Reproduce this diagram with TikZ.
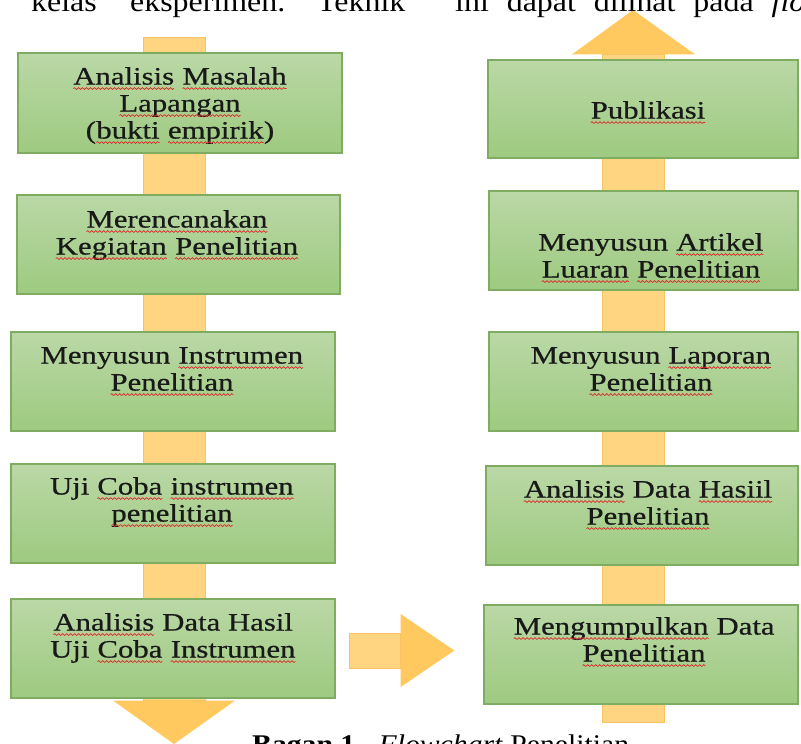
\documentclass[tikz,border=0pt]{standalone}
\usepackage{fontspec}
\setmainfont{Liberation Serif}[FakeStretch=1.23, FakeBold=0.6]
\newfontfamily\bodyfont{Liberation Serif}[FakeStretch=1.1]
\usetikzlibrary{calc,backgrounds,decorations.pathmorphing}

\definecolor{boxtop}{RGB}{186,216,166}
\definecolor{boxbot}{RGB}{158,202,128}
\definecolor{boxline}{RGB}{128,172,98}
\definecolor{barfill}{RGB}{255,213,130}
\definecolor{barline}{RGB}{246,196,100}
\definecolor{headfill}{RGB}{255,201,96}
\definecolor{squig}{RGB}{222,40,40}

% red spell-check wave under a word
\newcommand{\sq}[1]{\tikz[baseline=(w.base), x=1pt, y=1pt]{%
  \node[anchor=base, inner sep=0pt, outer sep=0pt, minimum size=0pt] (w) {#1};
  \draw[squig, line width=0.7pt, decorate, decoration={snake, amplitude=0.9pt, segment length=4pt}]
    ($(w.base west)+(0,-4)$) -- ($(w.base east)+(0,-4)$);}}

\tikzset{
  box/.style 2 args={rectangle, draw=boxline, line width=1.2pt, top color=boxtop, bottom color=boxbot,
    minimum width=#1, minimum height=#2, inner sep=0pt},
  steptext/.style={anchor=north, align=center, inner sep=0pt, font=\fontsize{25}{27}\selectfont, text=black!90},
  bodytext/.style={anchor=base west, inner sep=0pt, font=\bodyfont\fontsize{29}{32}\selectfont},
  captext/.style={anchor=base west, inner sep=0pt, font=\bodyfont\fontsize{27}{30}\selectfont},
  bar/.style={fill=barfill, draw=barline, line width=0.8pt},
  head/.style={fill=headfill, draw=none},
}

\begin{document}
\begin{tikzpicture}[x=1pt, y=-1pt]
\useasboundingbox (0,0) rectangle (801,744);
\clip (0,0) rectangle (801,744);

% left column
\node[box={324}{100}] (L1) at (180,103) {};
\node[box={323}{99}] (L2) at (178.5,244.5) {};
\node[box={324}{99}] (L3) at (173,381.5) {};
\node[box={324}{99}] (L4) at (173,513.5) {};
\node[box={324}{99}] (L5) at (173,648.5) {};

\node[steptext] (L1t) at (180,67) {\sq{Analisis} \sq{Masalah}\\ \sq{Lapangan}\\ (\sq{bukti} \sq{empirik})};
\node[steptext] (L2t) at (177,210) {\sq{Merencanakan}\\ \sq{Kegiatan} \sq{Penelitian}};
\node[steptext] (L3t) at (172,347) {Menyusun \sq{Instrumen}\\ \sq{Penelitian}};
\node[steptext] (L4t) at (172,477) {Uji \sq{Coba} \sq{instrumen}\\ \sq{penelitian}};
\node[steptext] (L5t) at (173,613) {\sq{Analisis} Data Hasil\\ Uji \sq{Coba} \sq{Instrumen}};

% right column
\node[box={310}{98}] (R1) at (643,109) {};
\node[box={309}{99}] (R2) at (643.5,240.5) {};
\node[box={309}{99}] (R3) at (643.5,381.5) {};
\node[box={312}{99}] (R4) at (642,515.5) {};
\node[box={314}{99}] (R5) at (641,654.5) {};

\node[steptext] (R1t) at (648,101) {\sq{Publikasi}};
\node[steptext] (R2t) at (651,233) {Menyusun \sq{Artikel}\\ \sq{Luaran} \sq{Penelitian}};
\node[steptext] (R3t) at (651,347) {Menyusun \sq{Laporan}\\ \sq{Penelitian}};
\node[steptext] (R4t) at (648,480) {\sq{Analisis} Data \sq{Hasiil}\\ \sq{Penelitian}};
\node[steptext] (R5t) at (644,617) {\sq{Mengumpulkan} Data\\ \sq{Penelitian}};

% arrows behind the boxes
\coordinate (ltop) at (174,37);
\coordinate (ltip) at (174,744);
\coordinate (rbot) at (633,722);
\coordinate (rtip) at (633,10);
\coordinate (htip) at ($(R5.west)+(-29,-4)$);
\begin{scope}[on background layer]
  \draw[bar] ($(ltop)+(-31,0)$) rectangle ($(L5.south -| ltop)+(31,2)$);
  \fill[head] ($(L5.south -| ltop)+(-61,2)$) -- ($(L5.south -| ltop)+(61,2)$) -- (ltip) -- cycle;
  \draw[bar] ($(rbot)+(-31,0)$) rectangle ($(R1.north -| rbot)+(31,-5)$);
  \fill[head] ($(R1.north -| rbot)+(-61,-5)$) -- ($(R1.north -| rbot)+(62,-5)$) -- (rtip) -- cycle;
\end{scope}
\draw[bar] ($(L5.east)+(14,-15.5)$) rectangle ($(L5.east)+(65,19.5)$);
\fill[head] ($(L5.east)+(65,-34.5)$) -- ($(L5.east)+(65,38.5)$) -- (htip) -- cycle;

% running text above and caption below
\node[bodytext] (w1) at (31,11) {kelas};
\node[bodytext] (w2) at (130,11) {eksperimen.};
\node[bodytext] (w3) at (317,11) {Teknik};
\node[bodytext] (w4) at (455,11) {\spaceskip=18pt ini dapat dilihat pada \textit{flowchart}};
\node[captext] (cap) at (252,753) {\textbf{Bagan 1.}\hspace{6pt} \textit{Flowchart} Penelitian};

\end{tikzpicture}
\end{document}
